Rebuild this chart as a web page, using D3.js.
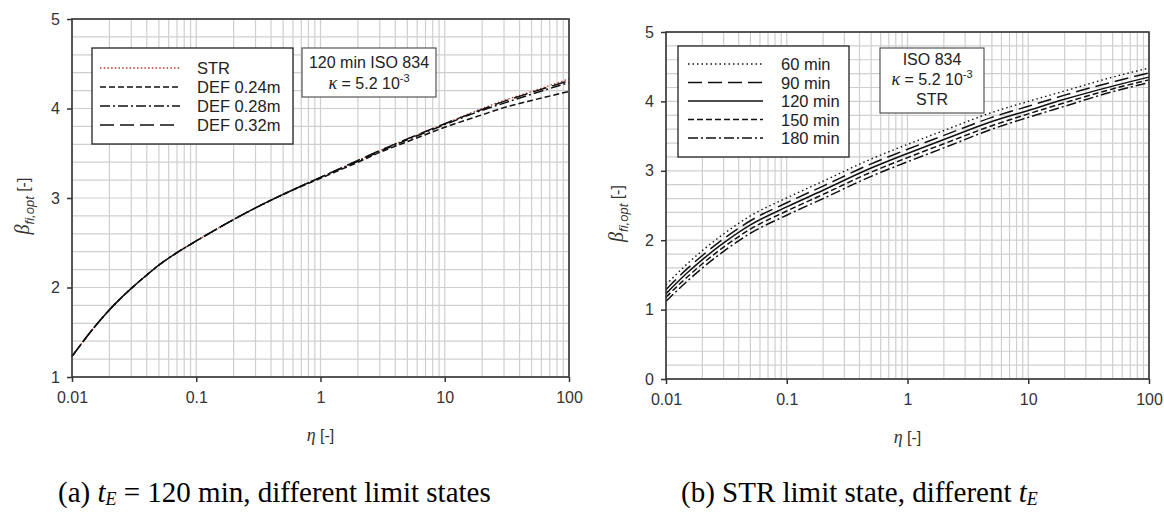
<!DOCTYPE html>
<html>
<head>
<meta charset="utf-8">
<script src="https://cdn.jsdelivr.net/npm/d3@7"></script>
<style>
  body { margin: 0; background: #fff; }
  svg { display: block; }
  .tick text { font-family: "Liberation Sans", Arial, sans-serif; font-size: 16px; fill: #333; }
</style>
</head>
<body>
<svg id="chart" width="1164" height="513"></svg>
<script>
// ---- panel (a): t_E = 120 min, different limit states ----
const etaA = [0.01, 0.015, 0.02, 0.03, 0.04, 0.05, 0.07, 0.1, 0.2, 0.3, 0.5, 1, 2, 3, 5, 10, 20, 30, 50, 100];
const strA    = [1.23, 1.55, 1.75, 1.99, 2.14, 2.25, 2.39, 2.52, 2.76, 2.89, 3.04, 3.23, 3.42, 3.53, 3.66, 3.83, 4.00, 4.09, 4.19, 4.33];
const def024A = [1.23, 1.55, 1.75, 1.99, 2.14, 2.25, 2.39, 2.52, 2.76, 2.89, 3.04, 3.22, 3.40, 3.51, 3.63, 3.79, 3.93, 4.01, 4.09, 4.19];
const def028A = [1.23, 1.55, 1.75, 1.99, 2.14, 2.25, 2.39, 2.52, 2.76, 2.89, 3.04, 3.23, 3.41, 3.52, 3.65, 3.82, 3.98, 4.06, 4.16, 4.29];
const def032A = [1.23, 1.55, 1.75, 1.99, 2.14, 2.25, 2.39, 2.52, 2.76, 2.89, 3.04, 3.23, 3.42, 3.53, 3.66, 3.83, 3.99, 4.08, 4.18, 4.31];
const namesA = ['STR', 'DEF 0.24m', 'DEF 0.28m', 'DEF 0.32m'];

// ---- panel (b): STR limit state, different t_E ----
const etaB = [0.01, 0.015, 0.02, 0.03, 0.05, 0.1, 0.2, 0.5, 1, 2, 5, 10, 20, 50, 100];
const t60  = [1.36, 1.66, 1.85, 2.09, 2.35, 2.61, 2.85, 3.17, 3.38, 3.58, 3.84, 4.00, 4.15, 4.35, 4.48];
const t90  = [1.29, 1.59, 1.78, 2.02, 2.28, 2.54, 2.78, 3.10, 3.31, 3.51, 3.77, 3.93, 4.09, 4.28, 4.41];
const t120 = [1.23, 1.53, 1.72, 1.96, 2.22, 2.48, 2.72, 3.04, 3.25, 3.45, 3.71, 3.87, 4.03, 4.22, 4.35];
const t150 = [1.18, 1.47, 1.66, 1.90, 2.16, 2.42, 2.66, 2.98, 3.19, 3.39, 3.65, 3.82, 3.98, 4.18, 4.31];
const t180 = [1.12, 1.41, 1.60, 1.84, 2.10, 2.36, 2.60, 2.92, 3.13, 3.33, 3.60, 3.77, 3.93, 4.14, 4.27];
const namesB = ['60 min', '90 min', '120 min', '150 min', '180 min'];

const xTicks = [0.01, 0.1, 1, 10, 100];
const yTicksA = [1, 2, 3, 4, 5];
const yTicksB = [0, 1, 2, 3, 4, 5];

const SANS = '"Liberation Sans", Arial, sans-serif';
const SERIF = '"Liberation Serif", "Times New Roman", serif';

// line styles
const DOT_RED = { stroke: '#c0392b', dash: '1.5,2.2', width: 1.3 };
const DOT = { stroke: '#111', dash: '1.5,3', width: 1.4 };
const DASH = { stroke: '#111', dash: '6,3', width: 1.5 };
const DASHDOT = { stroke: '#111', dash: '10,3,2,3', width: 1.5 };
const LONGDASH = { stroke: '#111', dash: '14,6', width: 1.5 };
const SOLID = { stroke: '#111', dash: null, width: 1.5 };

const svg = d3.select('#chart');

function drawPanel(cfg) {
  const g = svg.append('g');
  const x = d3.scaleLog().domain([0.01, 100]).range([cfg.left, cfg.right]);
  const y = d3.scaleLinear().domain(cfg.yDomain).range([cfg.bottom, cfg.top]);

  // grid
  const vLines = [];
  [0.01, 0.1, 1, 10].forEach(d => { for (let k = 2; k <= 9; k++) vLines.push(d * k); });
  xTicks.forEach(d => vLines.push(d));
  g.append('g').selectAll('line').data(vLines).join('line')
    .attr('x1', d => x(d)).attr('x2', d => x(d))
    .attr('y1', cfg.top).attr('y2', cfg.bottom)
    .attr('stroke', '#cfcfcf').attr('stroke-width', 1.2);
  const hLines = d3.range(cfg.yDomain[0], cfg.yDomain[1] + 1e-6, 0.2);
  g.append('g').selectAll('line').data(hLines).join('line')
    .attr('x1', cfg.left).attr('x2', cfg.right)
    .attr('y1', d => y(d)).attr('y2', d => y(d))
    .attr('stroke', '#cfcfcf').attr('stroke-width', 1.2);

  // curves
  const line = d3.line()
    .x(d => x(d[0])).y(d => y(d[1]))
    .curve(d3.curveMonotoneX);
  cfg.series.forEach(s => {
    g.append('path')
      .datum(cfg.eta.map((e, i) => [e, s.values[i]]))
      .attr('d', line)
      .attr('fill', 'none')
      .attr('stroke', s.style.stroke)
      .attr('stroke-width', s.style.width)
      .attr('stroke-dasharray', s.style.dash);
  });

  // frame
  g.append('rect')
    .attr('x', cfg.left).attr('y', cfg.top)
    .attr('width', cfg.right - cfg.left).attr('height', cfg.bottom - cfg.top)
    .attr('fill', 'none').attr('stroke', '#333').attr('stroke-width', 1.6);

  // axes
  const xa = g.append('g').attr('transform', `translate(0,${cfg.bottom})`)
    .call(d3.axisBottom(x).tickValues(xTicks).tickFormat(d => String(d)).tickSize(5).tickPadding(10));
  const ya = g.append('g').attr('transform', `translate(${cfg.left},0)`)
    .call(d3.axisLeft(y).tickValues(cfg.yTicks).tickFormat(d3.format('d')).tickSize(5).tickPadding(7));
  [xa, ya].forEach(a => {
    a.select('.domain').remove();
    a.selectAll('.tick line').attr('stroke', '#333').attr('stroke-width', 1.5);
  });

  // x title
  const xt = g.append('text')
    .attr('x', (cfg.left + cfg.right) / 2).attr('y', cfg.bottom + 64)
    .attr('text-anchor', 'middle').attr('fill', '#333')
    .attr('font-family', SANS).attr('font-size', 16);
  xt.append('tspan').attr('font-family', SERIF).attr('font-style', 'italic').attr('font-size', 18).text('η');
  xt.append('tspan').text(' [-]');

  // y title
  const yt = g.append('text')
    .attr('transform', `translate(${cfg.left - 43},${(cfg.top + cfg.bottom) / 2 + 8}) rotate(-90)`)
    .attr('text-anchor', 'middle').attr('fill', '#333')
    .attr('font-family', SANS).attr('font-size', 16);
  yt.append('tspan').attr('font-family', SERIF).attr('font-style', 'italic').attr('font-size', 20).text('β');
  yt.append('tspan').attr('font-style', 'italic').attr('font-size', 13).attr('dy', 5).text('fi,opt');
  yt.append('tspan').attr('dy', -5).text(' [-]');

  // legend
  const lg = g.append('g');
  const L = cfg.legend;
  lg.append('rect')
    .attr('x', L.x).attr('y', L.y).attr('width', L.w).attr('height', L.h)
    .attr('fill', '#fff').attr('stroke', '#222').attr('stroke-width', 1.3);
  cfg.series.forEach((s, i) => {
    const yy = L.y + L.first + i * L.step;
    lg.append('line')
      .attr('x1', L.x + L.lx1).attr('x2', L.x + L.lx2)
      .attr('y1', yy).attr('y2', yy)
      .attr('stroke', s.style.stroke).attr('stroke-width', s.style.width)
      .attr('stroke-dasharray', s.style.dash);
    lg.append('text')
      .attr('x', L.x + L.tx).attr('y', yy + 6)
      .attr('font-family', SANS).attr('font-size', 16.5).attr('fill', '#222')
      .text(s.name);
  });

  // annotation box
  const N = cfg.note;
  g.append('rect')
    .attr('x', N.x).attr('y', N.y).attr('width', N.w).attr('height', N.h)
    .attr('fill', '#fff').attr('stroke', '#555').attr('stroke-width', 1.2);
  N.lines.forEach((ln, i) => {
    const t = g.append('text')
      .attr('x', N.x + N.w / 2).attr('y', N.y + N.first + i * N.step)
      .attr('text-anchor', 'middle')
      .attr('font-family', SANS).attr('font-size', 16).attr('fill', '#222');
    if (ln === 'kappa') {
      t.append('tspan').attr('font-family', SERIF).attr('font-style', 'italic').attr('font-size', 18).text('κ');
      t.append('tspan').text(' = 5.2 10');
      t.append('tspan').attr('font-size', 11).attr('dy', -7).text('-3');
    } else {
      t.text(ln);
    }
  });

  // caption
  const cap = svg.append('text')
    .attr('x', cfg.capX).attr('y', 502)
    .attr('font-family', SERIF).attr('font-size', 29).attr('fill', '#000');
  cfg.caption(cap);
}

drawPanel({
  left: 72, right: 569, top: 19, bottom: 377,
  yDomain: [1, 5], yTicks: yTicksA, eta: etaA,
  series: [
    { name: namesA[0], values: strA, style: DOT_RED },
    { name: namesA[1], values: def024A, style: DASH },
    { name: namesA[2], values: def028A, style: DASHDOT },
    { name: namesA[3], values: def032A, style: LONGDASH }
  ],
  legend: { x: 92, y: 48, w: 201, h: 96, first: 20, step: 19, lx1: 8, lx2: 88, tx: 105 },
  note: { x: 302, y: 48, w: 134, h: 49, first: 20, step: 21, lines: ['120 min ISO 834', 'kappa'] },
  capX: 58,
  caption: t => {
    t.append('tspan').text('(a) ');
    t.append('tspan').attr('font-style', 'italic').text('t');
    t.append('tspan').attr('font-style', 'italic').attr('font-size', 18).attr('dy', 3).text('E');
    t.append('tspan').attr('dy', -3).text(' = 120 min, different limit states');
  }
});

drawPanel({
  left: 666, right: 1149, top: 32, bottom: 379,
  yDomain: [0, 5], yTicks: yTicksB, eta: etaB,
  series: [
    { name: namesB[0], values: t60, style: DOT },
    { name: namesB[1], values: t90, style: LONGDASH },
    { name: namesB[2], values: t120, style: SOLID },
    { name: namesB[3], values: t150, style: DASH },
    { name: namesB[4], values: t180, style: DASHDOT }
  ],
  legend: { x: 678, y: 46, w: 171, h: 111, first: 18, step: 18.5, lx1: 10, lx2: 85, tx: 103 },
  note: { x: 880, y: 48, w: 104, h: 65, first: 17, step: 20, lines: ['ISO 834', 'kappa', 'STR'] },
  capX: 681,
  caption: t => {
    t.append('tspan').text('(b) STR limit state, different ');
    t.append('tspan').attr('font-style', 'italic').text('t');
    t.append('tspan').attr('font-style', 'italic').attr('font-size', 18).attr('dy', 3).text('E');
  }
});
</script>
</body>
</html>
